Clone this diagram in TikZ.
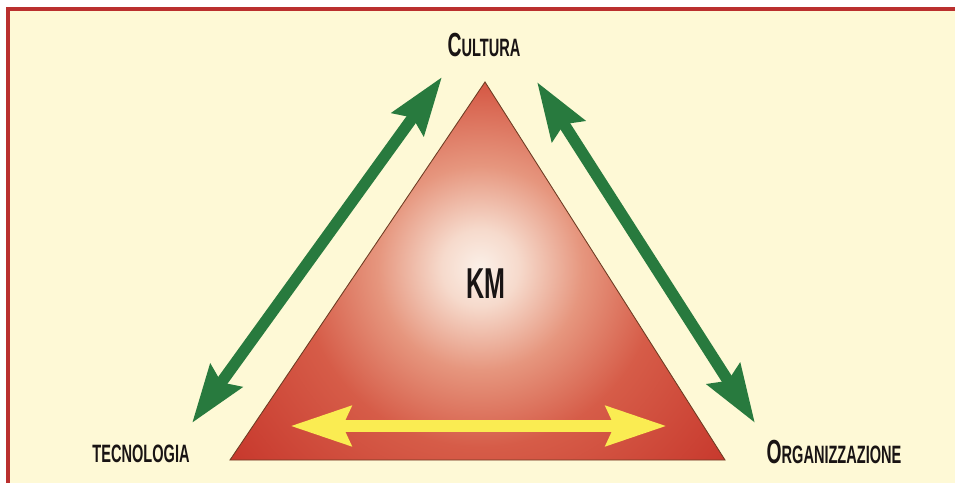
\documentclass[tikz,border=0pt]{standalone}
\usepackage{fontspec}
\setmainfont{Liberation Sans}
\newfontfamily\condfont[FakeStretch=0.58, UprightFont=* Bold]{Liberation Sans}
\usetikzlibrary{arrows.meta}
\definecolor{kmcream}{RGB}{254,249,214}
\definecolor{kmborder}{RGB}{186,48,46}
\definecolor{kmgreen}{RGB}{40,122,62}
\definecolor{kmyellow}{RGB}{250,236,82}
\definecolor{kmwhite}{RGB}{251,240,232}
\definecolor{kmblush}{RGB}{246,218,204}
\definecolor{kmpink}{RGB}{230,150,126}
\definecolor{kmsalmon}{RGB}{214,92,72}
\definecolor{kmred}{RGB}{200,58,46}
\definecolor{kmdeep}{RGB}{186,40,35}
\definecolor{kmedge}{RGB}{110,60,35}
\definecolor{kmtext}{RGB}{25,20,20}
\pgfdeclareradialshading{kmglow}{\pgfpoint{0bp}{0bp}}{color(0bp)=(kmwhite); color(3bp)=(kmblush); color(8bp)=(kmpink); color(14bp)=(kmsalmon); color(24bp)=(kmred); color(50bp)=(kmdeep)}
\newcommand{\kmbig}[1]{{\fontsize{19}{19}\selectfont #1}}
\newcommand{\kmsmall}[1]{{\fontsize{14.3}{14.3}\selectfont #1}}

\begin{document}
\begin{tikzpicture}[x=0.02cm, y=0.02cm,
    every node/.style={font=\condfont, text=kmtext, inner sep=0pt},
    pole/.style={anchor=base},
    link/.style={draw=kmgreen, line width=0.23cm,
                 {Stealth[length=1.15cm, width=0.76cm, inset=0.15cm]}-{Stealth[length=1.15cm, width=0.76cm, inset=0.15cm]}},
    flow/.style={draw=kmyellow, line width=0.26cm,
                 {Stealth[length=1.2cm, width=0.76cm, inset=0.15cm]}-{Stealth[length=1.2cm, width=0.76cm, inset=0.15cm]}}
]
\useasboundingbox (0,0) rectangle (955,483);
\clip (0,0) rectangle (955,483);
\fill[white] (0,0) rectangle (955,483);
\fill[kmcream] (8,0) rectangle (955,474);
\fill[kmborder] (6,0) rectangle (10,476);
\fill[kmborder] (6,472) rectangle (955,476);

\coordinate (apex) at (485,401);
\coordinate (left) at (230,23);
\coordinate (right) at (725,23);
\begin{scope}
  \clip (apex) -- (left) -- (right) -- cycle;
  \shade[shading=kmglow] (160,-105) rectangle (800,535);
\end{scope}
\draw[kmedge, line width=0.5pt, line join=miter] (apex) -- (left) -- (right) -- cycle;

\node[pole] (cult) at (484,426) {\kmbig{C}\kmsmall{ULTURA}};
\node[pole] (tecn) at (141,21) {\kmsmall{TECNOLOGIA}};
\node[pole] (orga) at (834,20) {\kmbig{O}\kmsmall{RGANIZZAZIONE}};
\node[pole, font=\condfont\fontsize{24.6}{24.6}\selectfont] (km) at (486,184) {KM};

\coordinate (cult-w) at (442,406);
\coordinate (cult-e) at (537,401);
\coordinate (tecn-n) at (192,60);
\coordinate (orga-n) at (755,60);
\coordinate (base-w) at (290,57);
\coordinate (base-e) at (667,57);

\draw[link] (cult-w) -- (tecn-n);
\draw[link] (cult-e) -- (orga-n);
\draw[flow] (base-w) -- (base-e);
\end{tikzpicture}
\end{document}
